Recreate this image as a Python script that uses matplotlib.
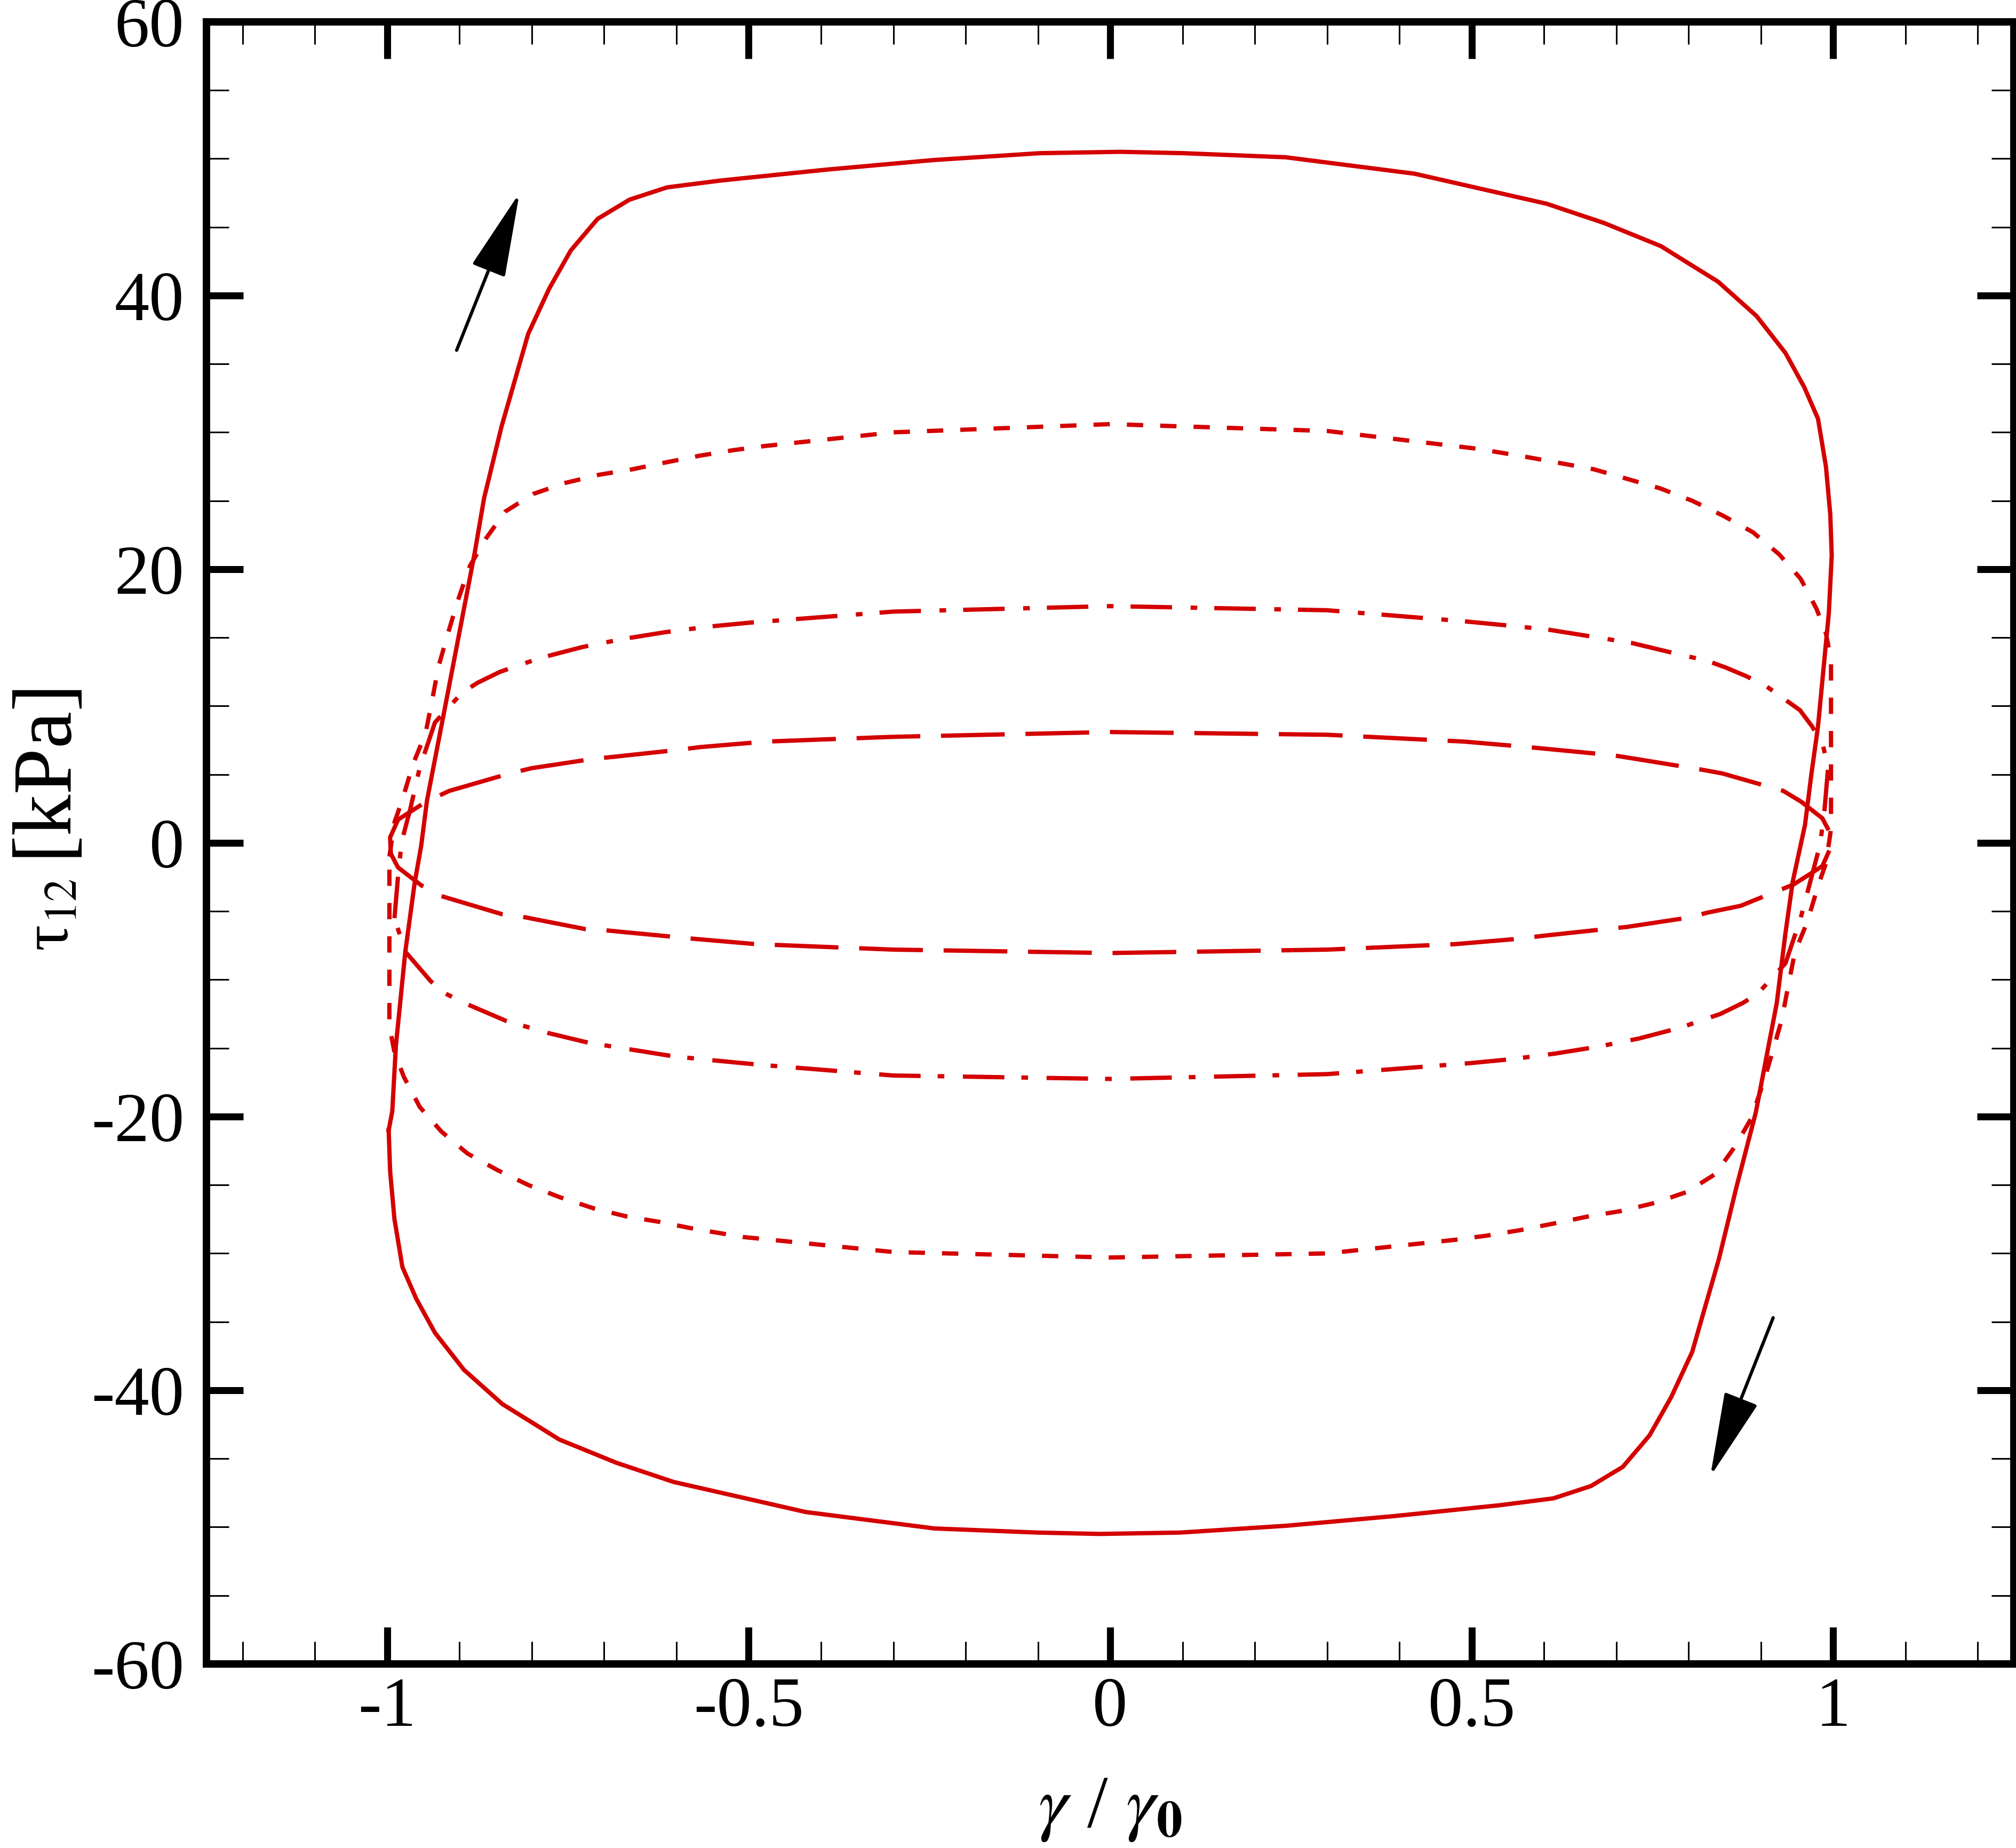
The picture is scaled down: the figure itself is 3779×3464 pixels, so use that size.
import matplotlib
matplotlib.use('Agg')
import matplotlib.pyplot as plt
from matplotlib.ticker import MultipleLocator

plt.rcParams['font.family'] = ['Liberation Serif', 'DejaVu Serif']
plt.rcParams['mathtext.fontset'] = 'stix'
plt.rcParams['axes.unicode_minus'] = False
plt.rcParams['lines.scale_dashes'] = False

red = '#d40000'

# ---- data (gamma/gamma0 , tau12 in kPa) ----
# solid loop, upper branch (left tip -> right tip) and lower branch (right tip -> left tip)
solid_up_x = [-0.998, -0.993, -0.988, -0.975, -0.962, -0.953, -0.945, -0.921, -0.879, -0.866, -0.842,
              -0.805, -0.776, -0.746, -0.709, -0.665, -0.613, -0.539, -0.392, -0.244, -0.097, 0.014,
              0.101, 0.243, 0.421, 0.604, 0.683, 0.762, 0.841, 0.894, 0.934, 0.960, 0.979, 0.990,
              0.996, 0.998]
solid_up_y = [-21.0, -19.6, -14.8, -7.95, -2.9, -0.2, 3.1, 9.65, 21.2, 25.2, 30.4,
              37.2, 40.5, 43.3, 45.6, 47.0, 47.9, 48.4, 49.2, 49.9, 50.4, 50.5,
              50.4, 50.1, 48.9, 46.7, 45.3, 43.6, 41.0, 38.5, 35.8, 33.3, 31.0, 27.5,
              24.0, 21.0]
solid_lo_x = [0.998, 0.994, 0.979, 0.970, 0.961, 0.944, 0.934, 0.922, 0.893, 0.866, 0.842,
              0.805, 0.776, 0.746, 0.709, 0.665, 0.613, 0.539, 0.392, 0.244, 0.097, -0.014,
              -0.101, -0.243, -0.421, -0.604, -0.683, -0.762, -0.841, -0.894, -0.934, -0.960,
              -0.979, -0.990, -0.996, -0.998]
solid_lo_y = [21.0, 16.8, 8.5, 5.07, 1.3, -2.85, -6.6, -11.7, -19.7, -25.2, -30.4,
              -37.2, -40.5, -43.3, -45.6, -47.0, -47.9, -48.4, -49.2, -49.9, -50.4, -50.5,
              -50.4, -50.1, -48.9, -46.7, -45.3, -43.6, -41.0, -38.5, -35.8, -33.3,
              -31.0, -27.5, -24.0, -21.0]

# short dashed loop
sdash_up_x = [-0.997, -0.990, -0.980, -0.964, -0.947, -0.938, -0.929, -0.916, -0.903, -0.886, -0.864,
              -0.837, -0.798, -0.754, -0.707, -0.661, -0.615, -0.567, -0.521, -0.478, -0.3, 0.0,
              0.3, 0.508, 0.576, 0.669, 0.761, 0.805, 0.848, 0.889, 0.925, 0.955, 0.977,
              0.990, 0.997, 0.997, 0.997, 0.997, 0.997]
sdash_up_y = [-1.0, 1.5, 3.0, 5.8, 8.0, 10.4, 12.9, 15.3, 17.6, 20.2, 22.2,
              24.2, 25.5, 26.3, 26.9, 27.3, 27.8, 28.3, 28.7, 29.0, 30.0, 30.6,
              30.1, 28.8, 28.2, 27.3, 25.9, 25.0, 23.9, 22.7, 21.1, 19.3, 17.1,
              15.3, 13.4, 9.4, 6.0, 2.5, 1.0]
sdash_lo_x = [0.997, 0.990, 0.980, 0.964, 0.947, 0.938, 0.929, 0.916, 0.903, 0.886, 0.864,
              0.837, 0.798, 0.754, 0.707, 0.661, 0.615, 0.567, 0.521, 0.478, 0.3, 0.0,
              -0.3, -0.508, -0.576, -0.623, -0.669, -0.715, -0.761, -0.805, -0.848, -0.889,
              -0.925, -0.955, -0.977, -0.990, -0.997, -0.997, -0.997, -0.997]
sdash_lo_y = [1.0, -1.5, -3.0, -5.8, -8.0, -10.4, -12.9, -15.3, -17.6, -20.2, -22.2,
              -24.2, -25.5, -26.3, -26.9, -27.3, -27.8, -28.3, -28.7, -29.0, -30.0, -30.3,
              -29.9, -28.8, -28.2, -27.7, -27.3, -26.7, -25.9, -25.0, -23.9, -22.7,
              -21.1, -19.3, -17.1, -15.3, -13.4, -9.0, -4.7, -1.0]

# dash-dot loop
ddot_up_x = [-0.990, -0.985, -0.980, -0.968, -0.955, -0.934, -0.896, -0.875, -0.844, -0.789, -0.731,
             -0.674, -0.615, -0.556, -0.497, -0.3, 0.0, 0.3, 0.488, 0.547, 0.604, 0.663,
             0.722, 0.777, 0.826, 0.852, 0.879, 0.906, 0.954, 0.971, 0.986, 0.993]
ddot_up_y = [-5.5, -2.4, 0.1, 2.5, 5.5, 8.8, 11.0, 11.7, 12.5, 13.5, 14.3,
             14.9, 15.4, 15.8, 16.1, 16.9, 17.3, 17.0, 16.2, 15.9, 15.6, 15.1,
             14.6, 13.9, 13.3, 12.8, 12.2, 11.5, 9.7, 8.5, 7.1, 5.5]
ddot_lo_x = [0.993, 0.988, 0.982, 0.970, 0.955, 0.934, 0.896, 0.875, 0.844, 0.789, 0.731,
             0.674, 0.615, 0.556, 0.497, 0.3, 0.0, -0.3, -0.488, -0.547, -0.604, -0.663,
             -0.722, -0.777, -0.836, -0.889, -0.920, -0.940, -0.975, -0.990]
ddot_lo_y = [5.5, 2.4, -0.1, -2.5, -5.5, -8.8, -11.0, -11.7, -12.5, -13.5, -14.3,
             -14.9, -15.4, -15.8, -16.1, -16.9, -17.25, -17.0, -16.2, -15.9, -15.6, -15.1,
             -14.6, -13.9, -13.0, -11.8, -11.0, -10.1, -7.95, -5.5]

# long dashed loop
ldash_up_x = [-0.995, -0.996, -0.985, -0.945, -0.914, -0.831, -0.800, -0.715, -0.685, -0.597, -0.567,
              -0.477, -0.3, 0.0, 0.3, 0.490, 0.578, 0.696, 0.813, 0.847, 0.931, 0.956,
              0.985, 0.995]
ldash_up_y = [-0.8, 0.4, 1.7, 3.05, 3.8, 5.07, 5.46, 6.14, 6.3, 6.8, 7.0,
              7.4, 7.75, 8.1, 7.9, 7.4, 7.0, 6.4, 5.4, 5.07, 3.8, 3.0,
              1.8, 0.8]
ldash_lo_x = [0.995, 0.996, 0.985, 0.945, 0.900, 0.872, 0.826, 0.800, 0.715, 0.685, 0.597,
              0.567, 0.477, 0.3, 0.0, -0.3, -0.490, -0.578, -0.696, -0.726, -0.813, -0.842,
              -0.927, -0.953, -0.985, -0.995]
ldash_lo_y = [0.8, -0.4, -1.7, -3.05, -4.0, -4.6, -5.1, -5.46, -6.14, -6.3, -6.8,
              -7.0, -7.4, -7.8, -8.05, -7.8, -7.4, -7.0, -6.4, -6.3, -5.4, -5.2,
              -3.86, -3.1, -1.8, -0.8]

# direction arrows (tail -> head)
arrow_tail = [(-0.904, 36.0), (0.917, -34.7)]
arrow_head = [(-0.817, 47.5), (0.830, -46.3)]

x_ticks = [-1, -0.5, 0, 0.5, 1]
x_tick_labels = ['-1', '-0.5', '0', '0.5', '1']
y_ticks = [-60, -40, -20, 0, 20, 40, 60]
y_tick_labels = ['-60', '-40', '-20', '0', '20', '40', '60']

fig = plt.figure(figsize=(18.9, 17.32), dpi=200)
ax = fig.add_axes([0.1024, 0.0996, 0.8963, 0.8886])

lw = 2.9
ax.plot(solid_up_x + solid_lo_x, solid_up_y + solid_lo_y, color=red, lw=lw, solid_joinstyle='round')
ax.plot(sdash_up_x + sdash_lo_x, sdash_up_y + sdash_lo_y, color=red, lw=lw,
        linestyle=(0, (11, 11.5)))
ax.plot(ddot_up_x + ddot_lo_x, ddot_up_y + ddot_lo_y, color=red, lw=lw,
        linestyle=(0, (28, 12.5, 4.5, 11.5)))
ax.plot(ldash_up_x + ldash_lo_x, ldash_up_y + ldash_lo_y, color=red, lw=lw,
        linestyle=(0, (43, 14)))

for tail, head in zip(arrow_tail, arrow_head):
    ax.annotate('', xy=head, xytext=tail,
                arrowprops=dict(arrowstyle='-|>,head_length=50,head_width=10.5',
                                mutation_scale=1, lw=2.2, color='k',
                                shrinkA=0, shrinkB=0))

ax.set_xlim(-1.25, 1.25)
ax.set_ylim(-60, 60)
ax.set_xticks(x_ticks)
ax.set_xticklabels(x_tick_labels)
ax.set_yticks(y_ticks)
ax.set_yticklabels(y_tick_labels)
ax.xaxis.set_minor_locator(MultipleLocator(0.1))
ax.yaxis.set_minor_locator(MultipleLocator(5))

for s in ax.spines.values():
    s.set_linewidth(5)
ax.tick_params(which='major', direction='in', length=25, width=4.7,
               top=True, right=True, labelsize=47)
ax.tick_params(which='minor', direction='in', length=15, width=1.1,
               top=True, right=True)
ax.tick_params(axis='x', which='major', pad=9)
ax.tick_params(axis='y', which='major', pad=15)

fig.text(0.5505, 0.021, r'$\gamma$ / $\gamma_{\mathbf{0}}$', ha='center', va='center', fontsize=50)
fig.text(0.026, 0.505, r'$\mathregular{\tau}_{12}$', ha='center', va='center', rotation=90, fontsize=44)
fig.text(0.022, 0.585, '[kPa]', ha='center', va='center', rotation=90, fontsize=56)

fig.savefig('out.png', dpi=200)
